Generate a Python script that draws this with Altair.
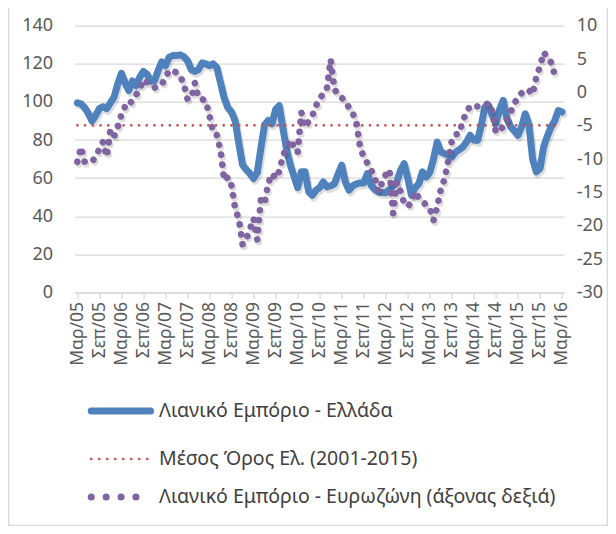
import altair as alt
import pandas as pd

# ---- data ----
month_labels = ['Μαρ/05', 'Σεπ/05', 'Μαρ/06', 'Σεπ/06', 'Μαρ/07', 'Σεπ/07', 'Μαρ/08', 'Σεπ/08',
                'Μαρ/09', 'Σεπ/09', 'Μαρ/10', 'Σεπ/10', 'Μαρ/11', 'Σεπ/11', 'Μαρ/12', 'Σεπ/12',
                'Μαρ/13', 'Σεπ/13', 'Μαρ/14', 'Σεπ/14', 'Μαρ/15', 'Σεπ/15', 'Μαρ/16']

greece_retail = [
    99.5, 99, 97, 94, 90, 93, 96.5, 97.5, 96.5, 99.5,
    102.5, 109.5, 115, 110, 106, 111, 108.5, 113, 116, 114.5,
    111, 111, 116.5, 121, 119, 123.5, 124.3, 124.3, 124.7, 123.8,
    121.7, 117, 116, 117, 120.5, 120, 119, 120, 118, 110,
    102, 97, 94.7, 90, 78, 67, 64.5, 62.5, 59.8, 63,
    76, 88, 90.3, 88.5, 96, 98, 86, 75, 67, 61,
    55, 63.3, 63.3, 53, 51, 53.7, 55, 58, 55.4, 56,
    57, 62, 66.8, 58, 53.7, 56, 57, 57.5, 57.5, 62.4,
    56.3, 54, 52.8, 52.5, 52.3, 54, 56, 58, 64, 67.6,
    60, 51, 55, 57, 63.3, 60.6, 63, 70, 79, 73.7,
    72.9, 72, 71, 73.7, 75, 76.4, 79, 82.5, 80, 79.8,
    87.7, 97.3, 98.2, 93, 88.6, 96, 100.8, 91.2, 87, 85,
    82.5, 87, 93.8, 88, 70, 63.3, 65, 76.4, 82, 86.8,
    90, 95.5, 94.7,
]

eurozone_retail = [
    -10.4, -8.2, -10.4, -10.4, -10.4, -9.6, -8.5, -7.4, -9.6, -5.7,
    -6.6, -5.2, -3.3, -2.1, -2.2, -1.0, -0.4, 0.5, 1.9, 1.5,
    1.1, 0.7, 1.0, 1.2, 2.2, 3.3, 3.2, 3.0, 2.4, 1.3,
    -1.0, -0.9, 1.4, -0.8, -1.0, -1.3, -3.5, -6.0, -6.4, -8.7,
    -13.2, -12.7, -14.0, -17.5, -19.0, -22.8, -22.0, -20.5, -18.9, -22.1,
    -15.9, -16.5, -13.6, -12.2, -12.9, -11.8, -9.5, -8.2, -7.1, -8.2,
    -9.0, -3.0, -5.2, -4.3, -3.5, -2.0, -1.0, -0.1, 0.7, 4.9,
    0.5, -0.3, -0.8, -1.3, -2.3, -3.1, -4.5, -8.2, -9.7, -10.6,
    -11.6, -12.7, -14.9, -13.5, -12.3, -11.6, -18.1, -13.5, -14.8, -16.6,
    -17.1, -16.5, -14.9, -15.8, -16.3, -16.9, -17.4, -19.2, -17.2, -14.5,
    -13.0, -10.3, -7.2, -6.3, -6.2, -4.2, -3.0, -2.0, -2.0, -2.1,
    -2.0, -1.9, -1.6, -2.8, -6.0, -5.6, -5.2, -4.1, -3.0, -1.6,
    -0.9, -0.1, 0.4, 0.3, -0.3, 2.3, 3.9, 6.0, 5.3, 4.5,
    2.7,
]

greece_average = 87.7  # Μέσος Όρος Ελ. (2001-2015)

legend_labels = ['Λιανικό Εμπόριο  - Ελλάδα',
                 'Μέσος Όρος Ελ.  (2001-2015)',
                 'Λιανικό Εμπόριο - Ευρωζώνη (άξονας δεξιά)']

# ---- tables ----
n = len(greece_retail)
months = pd.date_range('2005-03-01', periods=n, freq='MS')
df = pd.DataFrame({
    'i': list(range(n)),
    'month': months.strftime('%Y-%m'),
    'greece': greece_retail,
    'eurozone': eurozone_retail + [None] * (n - len(eurozone_retail)),
})
avg_df = pd.DataFrame({'start': [0], 'end': [n - 1], 'avg': [greece_average]})

BLUE = '#4F81BD'
RED = '#C0504D'
PURPLE = '#8064A2'
TEXT = '#595959'
GRID = '#D9D9D9'
FONT = 'Noto Sans'

PAD_L, PAD_T, PAD_R, PAD_B = 66.6, 17.7, 43.8, 233.5
W, H = 489.6, 266.8

label_js = '[' + ','.join("'" + s + "'" for s in month_labels) + ']'
x_axis = alt.Axis(values=list(range(0, n, 6)), labelExpr=label_js + '[round(datum.value / 6)]',
                  title=None, labelAngle=270, labelAlign='right', labelBaseline='middle',
                  labelFontSize=17.5, labelColor=TEXT, labelFont=FONT, labelPadding=3,
                  labelOverlap=False, labelFlush=False, labelBound=False,
                  tickSize=6, tickColor=GRID, tickWidth=1.3, domainColor=GRID, domainWidth=1.3,
                  grid=False)
x_scale = alt.Scale(domain=[-0.75, 132.6], nice=False, zero=False)

left_axis = alt.Axis(values=list(range(0, 141, 20)), title=None, grid=True, gridColor=GRID,
                     gridWidth=1.3, domain=False, ticks=False, labelPadding=22,
                     labelFontSize=18, labelColor=TEXT, labelFont=FONT)
left_scale = alt.Scale(domain=[0, 140], nice=False, zero=True)

right_axis = alt.Axis(orient='right', values=list(range(-30, 11, 5)), title=None, grid=False,
                      domain=False, ticks=False, labelPadding=12, labelFontSize=18,
                      labelColor=TEXT, labelFont=FONT, labelExpr="'' + datum.value")
right_scale = alt.Scale(domain=[-30, 10], nice=False, zero=False)

base = alt.Chart(df)

greece_shadow = base.mark_line(color='#000000', opacity=0.13, strokeWidth=7.5, strokeCap='round',
                               strokeJoin='round', xOffset=1.5, yOffset=2.5).encode(
    x=alt.X('i:Q', scale=x_scale, axis=x_axis),
    y=alt.Y('greece:Q', scale=left_scale, axis=left_axis),
)

greece_line = base.mark_line(color=BLUE, strokeWidth=7, strokeCap='round',
                             strokeJoin='round').encode(
    x=alt.X('i:Q', scale=x_scale, axis=x_axis),
    y=alt.Y('greece:Q', scale=left_scale, axis=left_axis),
)

avg_rule = alt.Chart(avg_df).mark_rule(color=RED, strokeWidth=2.6, strokeCap='round',
                                       strokeDash=[0.1, 7.6]).encode(
    x=alt.X('start:Q', scale=x_scale, axis=x_axis),
    x2='end:Q',
    y=alt.Y('avg:Q', scale=left_scale, axis=left_axis),
)

left_group = alt.layer(greece_shadow, greece_line, avg_rule)

euro_shadow = base.mark_line(color='#000000', opacity=0.13, strokeWidth=7, strokeCap='round',
                             strokeJoin='round', strokeDash=[0.1, 9.9],
                             xOffset=1.5, yOffset=2.5).encode(
    x=alt.X('i:Q', scale=x_scale, axis=x_axis),
    y=alt.Y('eurozone:Q', scale=right_scale, axis=right_axis),
)

euro_line = base.mark_line(color=PURPLE, strokeWidth=6.6, strokeCap='round',
                           strokeJoin='round', strokeDash=[0.1, 9.9]).encode(
    x=alt.X('i:Q', scale=x_scale, axis=x_axis),
    y=alt.Y('eurozone:Q', scale=right_scale, axis=right_axis),
)

right_group = alt.layer(euro_shadow, euro_line)

# ---- legend (below the plot) ----
leg_df = pd.DataFrame({'label': legend_labels})
row_y = [385.3, 433.3, 471.3]
sym_x0, sym_x1, text_x = 16.6, 76.0, 84.5

def leg_row(k, color, width, dash):
    d = leg_df.iloc[[k]]
    kw = dict(color=color, strokeWidth=width, strokeCap='round')
    if dash:
        kw['strokeDash'] = dash
    sym = alt.Chart(d).mark_rule(**kw).encode(
        x=alt.value(sym_x0), x2=alt.value(sym_x1), y=alt.value(row_y[k]))
    txt = alt.Chart(d).mark_text(align='left', baseline='middle', fontSize=19.5, font=FONT,
                                 color='#404040').encode(
        text='label:N', x=alt.value(text_x), y=alt.value(row_y[k]))
    return [sym, txt]

legend_layers = (leg_row(0, BLUE, 7, None) + leg_row(1, RED, 2.6, [0.1, 7.9])
                 + leg_row(2, PURPLE, 7, [0.1, 14.8]))

# light frame around the chart (left, right and bottom edges)
frame = alt.Chart(leg_df.iloc[[0]]).mark_rect(fill=None, stroke='#D9D9D9', strokeWidth=1.3).encode(
    x=alt.value(-PAD_L + 0.7), x2=alt.value(W + PAD_R - 0.7),
    y=alt.value(-PAD_T - 10), y2=alt.value(H + PAD_B - 0.7))

chart = alt.layer(left_group, right_group, frame, *legend_layers).resolve_scale(
    y='independent'
).properties(
    width=W, height=H,
    autosize=alt.AutoSizeParams(type='none'),
    padding={'left': PAD_L, 'top': PAD_T, 'right': PAD_R, 'bottom': PAD_B},
    background='white',
).configure_view(stroke=None)

chart.save('out.html', embed_options={'renderer': 'svg', 'actions': False})
